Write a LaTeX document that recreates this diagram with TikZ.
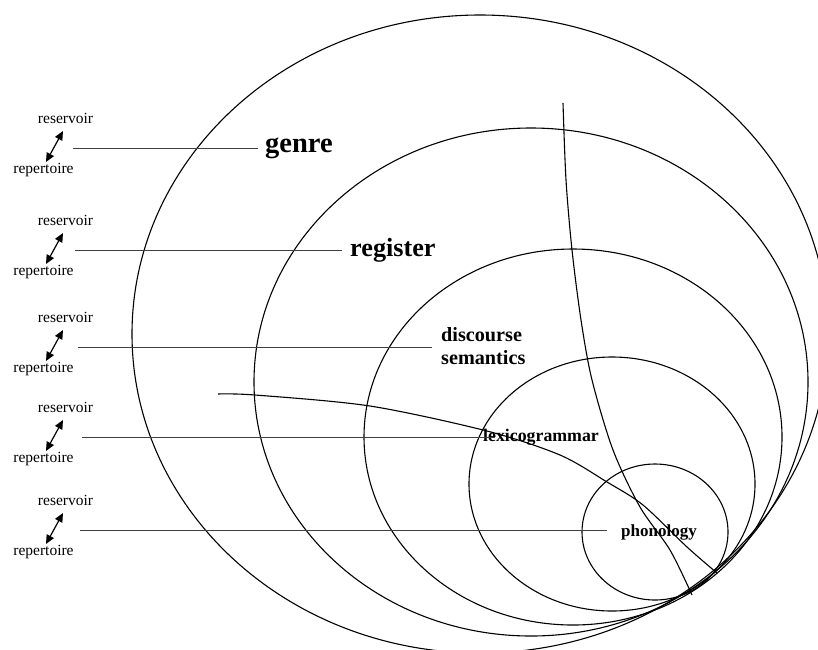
\documentclass[tikz,border=0pt]{standalone}
\usepackage{fontspec}
\setmainfont{Liberation Serif}
\usetikzlibrary{arrows.meta}
\tikzset{
  ring/.style={draw=black, line width=1.1pt},
  arc/.style={draw=black, line width=1.1pt},
  leader/.style={draw=black!75, line width=0.8pt},
  small/.style={font=\fontsize{15.5}{16}\selectfont, inner sep=0pt},
  lvl/.style={font=\bfseries, inner sep=0pt, anchor=west, align=left},
  dbl/.style={{Triangle[length=9pt,width=8pt]}-{Triangle[length=9pt,width=8pt]}, line width=1.2pt}
}
\begin{document}
\begin{tikzpicture}[x=1pt,y=-1pt]
\useasboundingbox (0,0) rectangle (818,649);
\fill[white] (0,0) rectangle (818,649);
\begin{scope}
\clip (0,0) rectangle (818,649);
% strata (ellipses)
\draw[ring] (480,334) ellipse [x radius=348pt, y radius=319pt];
\draw[ring] (531,382) ellipse [x radius=277pt, y radius=254pt];
\draw[ring] (573,437) ellipse [x radius=209pt, y radius=188pt];
\draw[ring] (612,484) ellipse [x radius=143pt, y radius=127pt];
\draw[ring] (655,532) ellipse [x radius=73pt, y radius=68pt];
% two long arcs
\draw[arc] plot[smooth] coordinates {(563,103) (566,180) (572,250) (581,320) (592,380) (613,450) (640,507) (670,550) (692,595)};
\draw[arc] plot[smooth] coordinates {(218,394) (255,395) (370,406) (487,431) (560,455) (607,482) (643,505) (687,547) (717,573)};
\end{scope}
% labels
\node[lvl, font=\bfseries\fontsize{28.5}{30}\selectfont] (genre) at (265,148) {genre};
\node[lvl, font=\bfseries\fontsize{26.2}{27}\selectfont] (register) at (350,250) {register};
\node[lvl, font=\bfseries\fontsize{20.2}{23}\selectfont] (discourse) at (441,346) {discourse\\semantics};
\node[lvl, font=\bfseries\fontsize{17.8}{19}\selectfont] (lexico) at (483,437) {lexicogrammar};
\node[lvl, font=\bfseries\fontsize{17}{19}\selectfont] (phono) at (621,532) {phonology};
% left blocks
\foreach \i/\y/\x in {1/148/73, 2/250/75, 3/347/78, 4/437/82, 5/530/80}{
  \node[small] (res\i) at (65.5,\y-30) {reservoir};
  \node[small] (rep\i) at (43.5,\y+22) {repertoire};
  \coordinate (ah\i) at (63,\y-17);
  \coordinate (al\i) at (46,\y+14);
  \draw[dbl] (al\i) -- (ah\i);
  \coordinate (ls\i) at (\x,\y);
}
\coordinate (le1) at (258,148);
\coordinate (le2) at (342,250);
\coordinate (le3) at (432,347);
\coordinate (le4) at (495,437);
\coordinate (le5) at (607,530);
\draw[leader] (ls1) -- (le1);
\draw[leader] (ls2) -- (le2);
\draw[leader] (ls3) -- (le3);
\draw[leader] (ls4) -- (le4);
\draw[leader] (ls5) -- (le5);
\end{tikzpicture}
\end{document}
